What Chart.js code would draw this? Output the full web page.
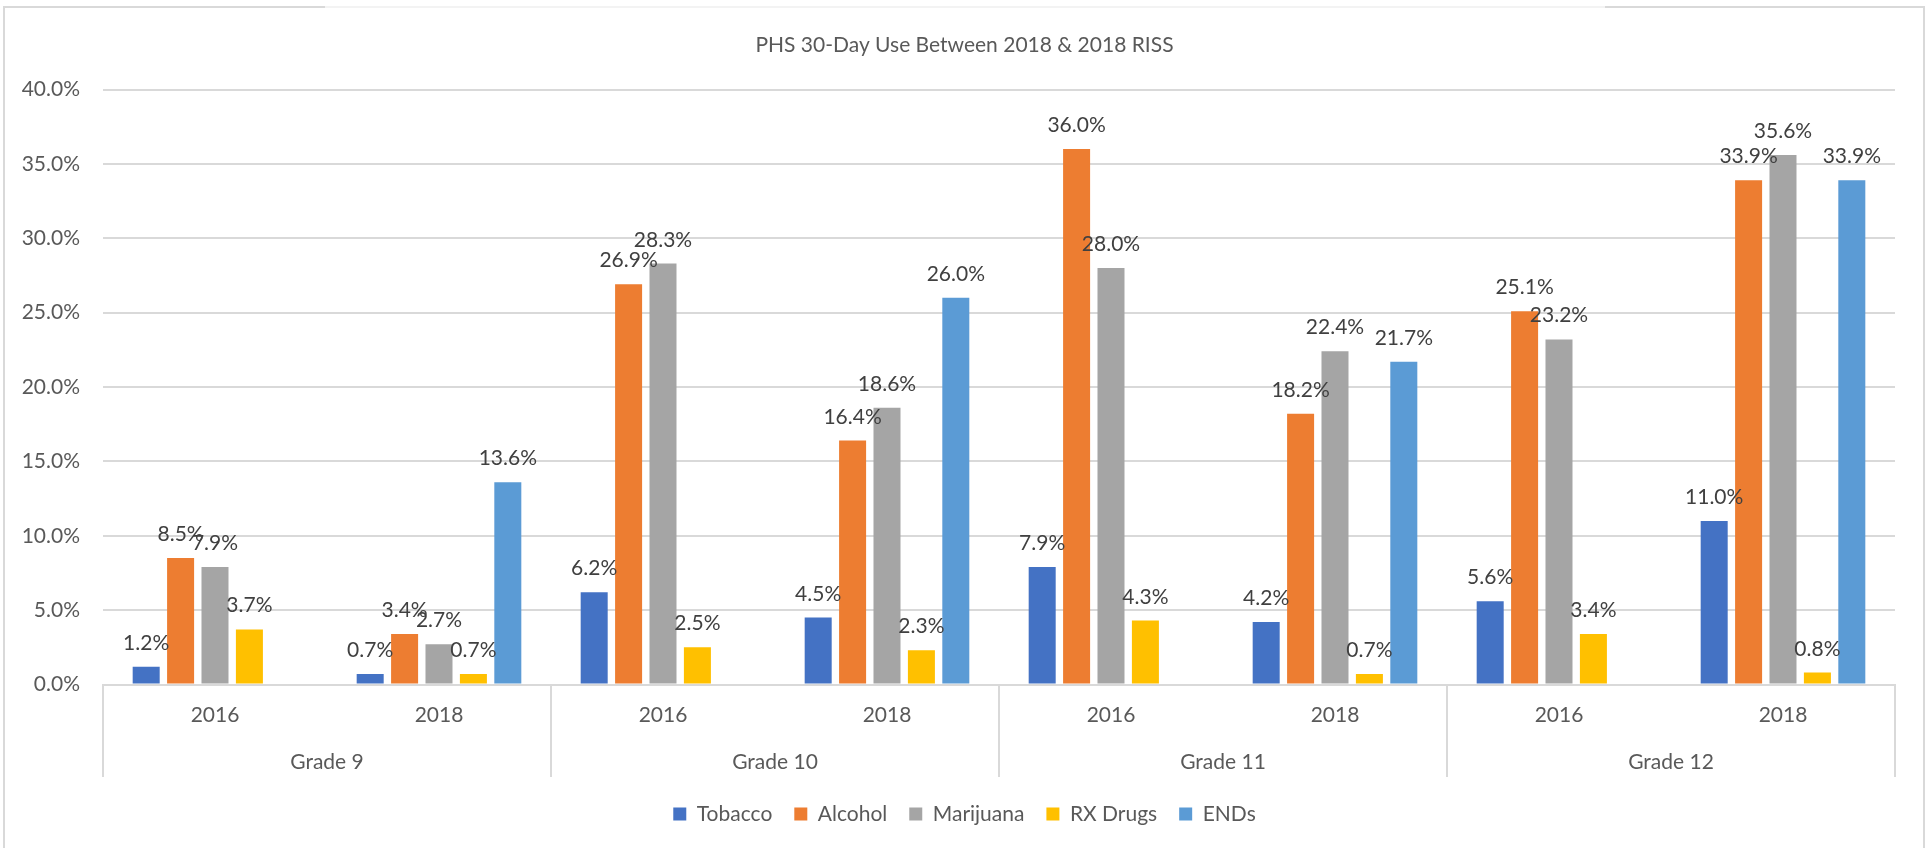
<!DOCTYPE html>
<html>
<head>
<meta charset="utf-8">
<script src="https://cdn.jsdelivr.net/npm/chart.js@4.4.1/dist/chart.umd.min.js"></script>
<style>
  html, body { margin: 0; padding: 0; background: #ffffff; }
  #wrap { width: 1929px; height: 848px; position: relative; }
</style>
</head>
<body>
<div id="wrap"><canvas id="c" width="1929" height="848"></canvas></div>
<script>
// ---- data ----
const titleText = 'PHS 30-Day Use Between 2018 & 2018 RISS';
const years = ['2016', '2018', '2016', '2018', '2016', '2018', '2016', '2018'];
const grades = ['Grade 9', 'Grade 10', 'Grade 11', 'Grade 12'];
const seriesNames = ['Tobacco', 'Alcohol', 'Marijuana', 'RX Drugs', 'ENDs'];
const tobacco   = [1.2, 0.7, 6.2, 4.5, 7.9, 4.2, 5.6, 11.0];
const alcohol   = [8.5, 3.4, 26.9, 16.4, 36.0, 18.2, 25.1, 33.9];
const marijuana = [7.9, 2.7, 28.3, 18.6, 28.0, 22.4, 23.2, 35.6];
const rxDrugs   = [3.7, 0.7, 2.5, 2.3, 4.3, 0.7, 3.4, 0.8];
const ends      = [null, 13.6, null, 26.0, null, 21.7, null, 33.9];
const yMin = 0, yMax = 40, yStep = 5;

// ---- styles ----
const colors = ['#4472C4', '#ED7D31', '#A5A5A5', '#FFC000', '#5B9BD5'];
const FONT = 'Lato, "Open Sans", sans-serif';
const FS = 21;
const axisText = '#595959';
const labelText = '#404040';
const lineGray = '#D9D9D9';

const seriesValues = [tobacco, alcohol, marijuana, rxDrugs, ends];

const dataLabelPlugin = {
  id: 'dataLabels',
  afterDatasetsDraw(chart) {
    const ctx = chart.ctx;
    ctx.save();
    ctx.font = FS + 'px ' + FONT;
    ctx.fillStyle = labelText;
    ctx.textAlign = 'center';
    ctx.textBaseline = 'alphabetic';
    chart.data.datasets.forEach((ds, di) => {
      const meta = chart.getDatasetMeta(di);
      meta.data.forEach((bar, i) => {
        const v = ds.data[i];
        if (v === null || v === undefined) return;
        ctx.fillText(v.toFixed(1) + '%', bar.x, bar.y - 17);
      });
    });
    ctx.restore();
  }
};

const framePlugin = {
  id: 'frame',
  beforeDraw(chart) {
    const ctx = chart.ctx;
    ctx.save();
    ctx.fillStyle = '#ffffff';
    ctx.fillRect(0, 0, chart.width, chart.height);
    ctx.strokeStyle = lineGray;
    ctx.lineWidth = 2;
    ctx.beginPath();
    ctx.moveTo(4, 848); ctx.lineTo(4, 7); ctx.lineTo(325, 7);
    ctx.moveTo(1605, 7); ctx.lineTo(1924, 7); ctx.lineTo(1924, 848);
    ctx.stroke();
    ctx.strokeStyle = '#F3F3F3';
    ctx.beginPath();
    ctx.moveTo(325, 7); ctx.lineTo(1605, 7);
    ctx.stroke();
    ctx.restore();
  },
  afterDraw(chart) {
    const xs = chart.scales.x;
    const x2 = chart.scales.x2;
    const ctx = chart.ctx;
    const n = xs.getLabels().length;
    const catW = (xs.right - xs.left) / n;
    ctx.save();
    ctx.strokeStyle = lineGray;
    ctx.lineWidth = 2;
    ctx.beginPath();
    for (let i = 0; i <= n; i += 2) {
      let px = i < n ? xs.getPixelForValue(i) - catW / 2 : xs.getPixelForValue(n - 1) + catW / 2;
      px = Math.round(px);
      ctx.moveTo(px, xs.top);
      ctx.lineTo(px, x2.top + 38.5);
    }
    ctx.stroke();
    ctx.restore();
  }
};

const datasets = seriesNames.map((name, k) => ({
  label: name,
  data: seriesValues[k],
  backgroundColor: colors[k],
  borderWidth: 0,
  barPercentage: 0.785,
  categoryPercentage: 0.768
}));

new Chart(document.getElementById('c'), {
  type: 'bar',
  data: { labels: years, datasets },
  options: {
    responsive: false,
    animation: false,
    layout: { padding: { top: 0, left: 0, right: 0, bottom: 13.5 } },
    font: { family: FONT, size: FS },
    plugins: {
      title: {
        display: true,
        text: titleText,
        color: axisText,
        font: { family: FONT, size: FS, weight: 'normal' },
        padding: { top: 33, bottom: 31.3 }
      },
      legend: {
        position: 'bottom',
        labels: {
          color: axisText,
          font: { family: FONT, size: FS },
          boxWidth: 13,
          boxHeight: 13,
          padding: 22
        }
      },
      tooltip: { enabled: false }
    },
    scales: {
      y: {
        min: yMin, max: yMax,
        ticks: {
          stepSize: yStep,
          color: axisText,
          font: { family: FONT, size: FS },
          padding: 23,
          callback: v => Number(v).toFixed(1) + '%'
        },
        grid: { color: lineGray, lineWidth: 2, drawTicks: false },
        border: { display: false },
        afterFit: s => { s.width = 103; }
      },
      yRight: {
        position: 'right',
        min: yMin, max: yMax,
        ticks: { display: false },
        grid: { display: false, drawTicks: false },
        border: { display: false },
        afterFit: s => { s.width = 34; }
      },
      x: {
        weight: 0,
        ticks: { color: axisText, font: { family: FONT, size: FS }, padding: 18, maxRotation: 0, autoSkip: false },
        grid: { display: false, drawTicks: false },
        border: { display: true, color: lineGray, width: 2 },
        afterFit: s => { s.height = 54; }
      },
      x2: {
        type: 'category',
        position: 'bottom',
        weight: 1,
        labels: grades,
        offset: true,
        ticks: { color: axisText, font: { family: FONT, size: FS }, padding: 10.9, maxRotation: 0, autoSkip: false },
        grid: { display: false, drawTicks: false },
        border: { display: false },
        afterFit: s => { s.height = 43; }
      }
    }
  },
  plugins: [framePlugin, dataLabelPlugin]
});
</script>
</body>
</html>
